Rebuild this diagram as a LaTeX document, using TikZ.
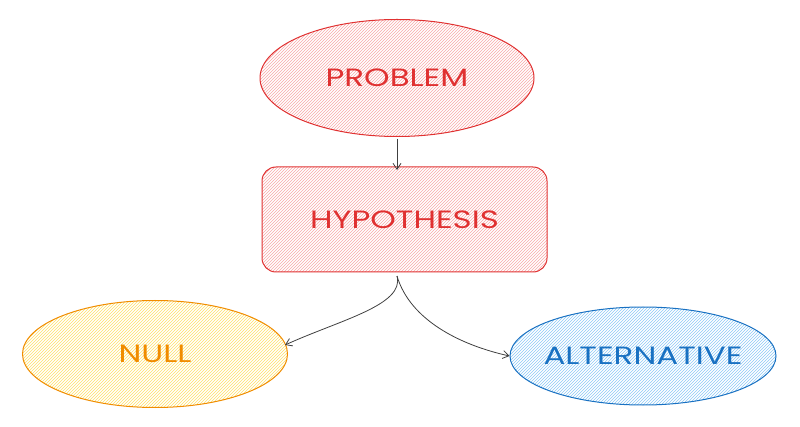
\documentclass[tikz,border=0pt]{standalone}
\usepackage{fontspec}
\usepackage{graphicx}
\setmainfont{Poppins}
\usetikzlibrary{shapes.geometric,patterns,arrows.meta}
\definecolor{rd}{HTML}{E03131}
\definecolor{rdf}{HTML}{F8A8A8}
\definecolor{or}{HTML}{F08C00}
\definecolor{orf}{HTML}{FFE066}
\definecolor{bl}{HTML}{1971C2}
\definecolor{blf}{HTML}{8CC8F5}
\newcommand{\wide}[1]{\scalebox{1.3}[1]{#1}}
\tikzset{
  lbl/.style={font=\fontsize{25}{28}\selectfont},
  conn/.style={draw=black!75,line width=0.8pt,-{Straight Barb[length=6pt,width=8pt]}},
}
\begin{document}
\begin{tikzpicture}[x=1pt,y=-1pt]
\useasboundingbox (0,0) rectangle (800,427);
% PROBLEM
\node[ellipse,minimum width=274pt,minimum height=117pt,draw=rd,line width=1pt,
  pattern=north east lines,pattern color=rdf] (p) at (397,78) {};
\node[lbl,text=rd] at (p.center) {\wide{PROBLEM}};
% HYPOTHESIS
\node[rectangle,rounded corners=14pt,minimum width=285pt,minimum height=105pt,draw=rd,line width=1pt,
  pattern=north east lines,pattern color=rdf] (h) at (404.5,219.5) {};
\node[lbl,text=rd] at (h.center) {\wide{HYPOTHESIS}};
% NULL
\node[ellipse,minimum width=265pt,minimum height=107pt,draw=or,line width=1pt,
  pattern=north east lines,pattern color=orf] (n) at (155,354) {};
\node[lbl,text=or] at (n.center) {\wide{NULL}};
% ALTERNATIVE
\node[ellipse,minimum width=266pt,minimum height=98pt,draw=bl,line width=1pt,
  pattern=north east lines,pattern color=blf] (a) at (643,356) {};
\node[lbl,text=bl] at (a.center) {\wide{ALTERNATIVE}};
% connectors
\coordinate (hs) at (397,276);
\draw[conn] (p.south) ++(0,2) -- (397,170);
\draw[conn] (hs) .. controls (405,305) and (340,320) .. (285,345);
\draw[conn] (hs) .. controls (410,320) and (460,345) .. (a.west);
\end{tikzpicture}
\end{document}
